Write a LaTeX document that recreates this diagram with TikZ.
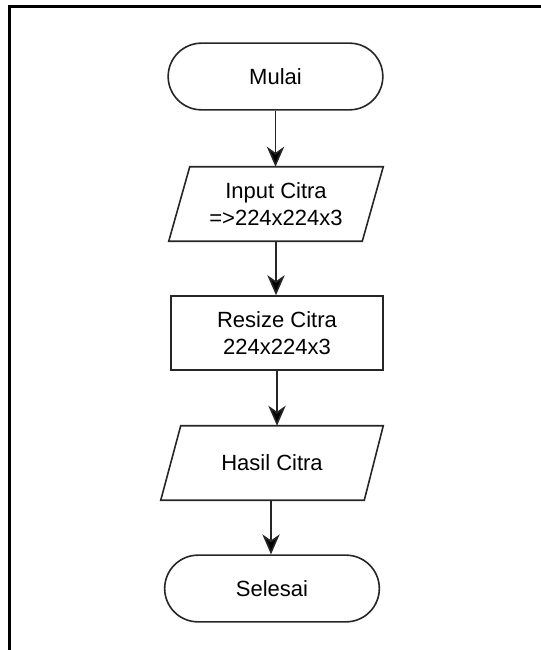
\documentclass[tikz,border=0pt]{standalone}
\usepackage{fontspec}
\setmainfont{Liberation Sans}
\usetikzlibrary{shapes.misc,arrows.meta,calc}

\tikzset{
  flowline/.style={line width=1.2pt, draw=black!85},
  terminal/.style={rounded rectangle, flowline, minimum width=161pt, minimum height=50pt,
                   inner sep=0pt, font=\fontsize{16.5}{20}\selectfont, align=center},
  process/.style={rectangle, flowline, minimum width=159pt, minimum height=55.5pt,
                  inner sep=0pt, font=\fontsize{16.5}{20}\selectfont, align=center},
  iobox/.style={rectangle, minimum height=55.5pt, inner sep=0pt,
                font=\fontsize{16.5}{20}\selectfont, align=center},
  flowarrow/.style={flowline, -{Stealth[length=15pt, width=13pt, inset=4.5pt, fill=black]}},
  frameline/.style={line width=1.6pt, draw=black}
}

\begin{document}
\begin{tikzpicture}[x=0.75pt, y=-0.75pt]
  \useasboundingbox (0,0) rectangle (541,650);

  % page frame (top and left edges)
  \draw[frameline] (9.5,650) -- (9.5,6.5) -- (541,6.5);

  % nodes
  \node[terminal] (start) at (275.5,76.5) {Mulai};
  \node[iobox, minimum width=160.5pt] (input) at (276,204) {Input Citra\\=>224x224x3};
  \node[process] (resize) at (277,333) {Resize Citra\\224x224x3};
  \node[iobox, minimum width=166.5pt] (result) at (272,463) {Hasil Citra};
  \node[terminal] (stop) at (272,588.5) {Selesai};

  % parallelogram outlines of the data nodes
  \draw[flowline] ($(input.north west)+(21,0)$) -- (input.north east)
        -- ($(input.south east)+(-21,0)$) -- (input.south west) -- cycle;
  \draw[flowline] ($(result.north west)+(20,0)$) -- (result.north east)
        -- ($(result.south east)+(-19,0)$) -- (result.south west) -- cycle;

  % connectors
  \draw[flowarrow] (start.south) -- (start.south |- input.north);
  \draw[flowarrow] (input.south) -- (input.south |- resize.north);
  \draw[flowarrow] (resize.south) -- (resize.south |- result.north);
  \coordinate (resultout) at ($(result.south)+(-1,0)$);
  \draw[flowarrow] (resultout) -- (resultout |- stop.north);
\end{tikzpicture}
\end{document}
